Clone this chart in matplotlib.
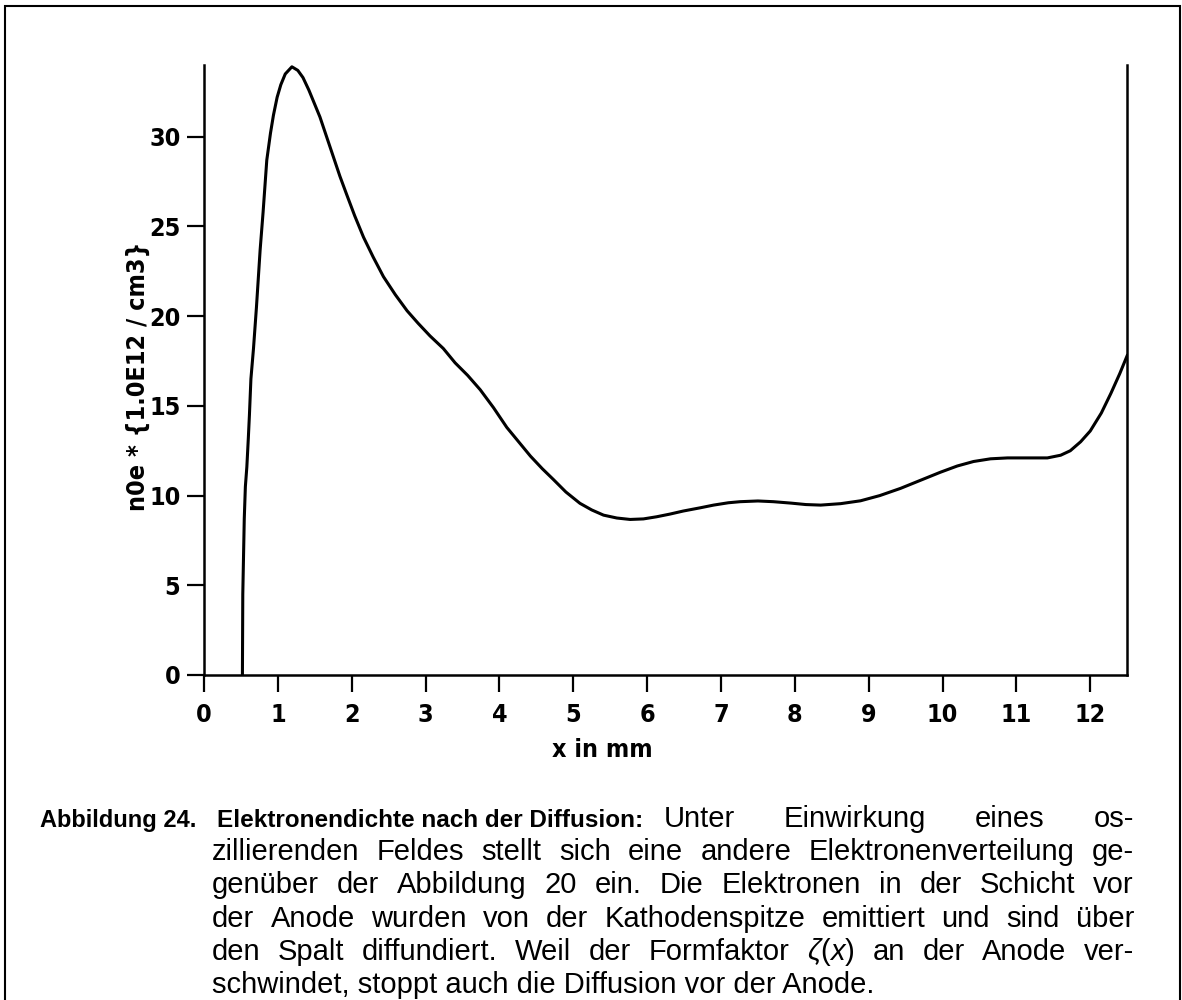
import matplotlib
matplotlib.use('Agg')
import matplotlib.pyplot as plt
from matplotlib.patches import Rectangle
from matplotlib.transforms import IdentityTransform

# electron density after diffusion
x_mm = [0.52, 0.525, 0.545, 0.56, 0.58, 0.60, 0.615, 0.635, 0.67, 0.71, 0.76, 0.80, 0.85,
        0.90, 0.94, 0.99, 1.04, 1.10, 1.19, 1.27, 1.34, 1.42, 1.50, 1.57, 1.66, 1.75,
        1.84, 1.93, 2.04, 2.16, 2.29, 2.43, 2.59, 2.75, 2.90, 3.06, 3.24, 3.40, 3.57,
        3.74, 3.92, 4.10, 4.26, 4.42, 4.58, 4.73, 4.90, 5.09, 5.25, 5.41, 5.59, 5.77,
        5.95, 6.13, 6.31, 6.49, 6.72, 6.90, 7.10, 7.26, 7.50, 7.71, 7.95, 8.15, 8.35,
        8.62, 8.89, 9.15, 9.43, 9.70, 9.97, 10.2, 10.42, 10.65, 10.88, 11.15, 11.42,
        11.6, 11.73, 11.87, 12.0, 12.15, 12.28, 12.4, 12.5]
n0e = [0.0, 4.5, 8.7, 10.5, 11.6, 13.2, 14.5, 16.5, 18.2, 20.5, 23.7, 25.8, 28.7,
       30.2, 31.2, 32.2, 32.9, 33.5, 33.9, 33.7, 33.3, 32.6, 31.8, 31.1, 30.0, 28.9,
       27.8, 26.8, 25.6, 24.4, 23.3, 22.2, 21.2, 20.3, 19.6, 18.9, 18.2, 17.4, 16.7,
       15.9, 14.9, 13.8, 13.0, 12.2, 11.5, 10.9, 10.2, 9.57, 9.2, 8.91, 8.75, 8.67,
       8.7, 8.82, 8.97, 9.14, 9.32, 9.47, 9.6, 9.66, 9.7, 9.66, 9.58, 9.5, 9.47,
       9.55, 9.71, 10.0, 10.4, 10.85, 11.3, 11.65, 11.9, 12.05, 12.1, 12.1, 12.1,
       12.25, 12.5, 13.0, 13.6, 14.6, 15.7, 16.8, 17.8]

x_ticks = list(range(0, 13))
y_ticks = [0, 5, 10, 15, 20, 25, 30]

caption_label = 'Abbildung 24.'
caption_title = 'Elektronendichte nach der Diffusion:'
caption_lines = [
    'Unter Einwirkung eines os-',
    'zillierenden Feldes stellt sich eine andere Elektronenverteilung ge-',
    'genüber der Abbildung 20 ein. Die Elektronen in der Schicht vor',
    'der Anode wurden von der Kathodenspitze emittiert und sind über',
    'den Spalt diffundiert. Weil der Formfaktor $\\zeta(x)$ an der Anode ver-',
    'schwindet, stoppt auch die Diffusion vor der Anode.',
]

plt.rcParams['font.family'] = ['DejaVu Sans']
plt.rcParams['font.stretch'] = 'condensed'
plt.rcParams['font.weight'] = 'bold'
plt.rcParams['axes.labelweight'] = 'bold'
plt.rcParams['mathtext.fontset'] = 'custom'
plt.rcParams['mathtext.rm'] = 'Liberation Sans:weight=normal:stretch=normal'
plt.rcParams['mathtext.it'] = 'Liberation Sans:style=italic:weight=normal:stretch=normal'

fig = plt.figure(figsize=(11.82, 10), dpi=100)
ax = fig.add_axes([0.1726, 0.325, 0.781, 0.61])

ax.plot(x_mm, n0e, color='black', linewidth=2.2, solid_joinstyle='round')

ax.set_xlim(0, 12.5)
ax.set_ylim(0, 34)
ax.set_xticks(x_ticks)
ax.set_yticks(y_ticks)
ax.spines['top'].set_visible(False)
for s in ['left', 'bottom', 'right']:
    ax.spines[s].set_linewidth(1.8)
ax.yaxis.set_ticks_position('left')
ax.xaxis.set_ticks_position('bottom')
ax.tick_params(axis='both', direction='out', length=12, width=1.6, labelsize=18)
ax.tick_params(axis='x', pad=8)
ax.tick_params(axis='y', pad=5)

ax.set_xlabel('x in mm', fontsize=18)
ax.xaxis.set_label_coords(0.432, -0.103)
ax.set_ylabel('n0e * {1.0E12 / cm3}', fontsize=18)
ax.yaxis.set_label_coords(-0.058, 0.49)

# frame around the whole figure
fig.add_artist(Rectangle((5, -10), 1175, 1004, transform=IdentityTransform(),
                         fill=False, edgecolor='black', linewidth=1.5))

# caption, justified like the printed page
renderer = fig.canvas.get_renderer()
cap = dict(family='Liberation Sans', stretch='normal', va='baseline',
           transform=IdentityTransform())
H = 1000
base = 827
step = 33.2
left, right = 212, 1134
body_size = 21


def justify(words, x0, x1, y):
    ts = [fig.text(0, y, w, fontsize=body_size, weight='normal', **cap) for w in words]
    widths = [t.get_window_extent(renderer).width for t in ts]
    gap = (x1 - x0 - sum(widths)) / (len(ts) - 1)
    x = x0
    for t, w in zip(ts, widths):
        t.set_x(x)
        x += w + gap


fig.text(40, H - base, caption_label, fontsize=17, weight='bold', **cap)
fig.text(217, H - base, caption_title, fontsize=17.5, weight='bold', **cap)
justify(caption_lines[0].split(), 664, right, H - base)
for i, line in enumerate(caption_lines[1:-1]):
    justify(line.split(), left, right, H - (base + step * (i + 1)))
fig.text(left, H - (base + step * (len(caption_lines) - 1)), caption_lines[-1],
         fontsize=body_size, weight='normal', **cap)

plt.savefig('out.png', dpi=100)
